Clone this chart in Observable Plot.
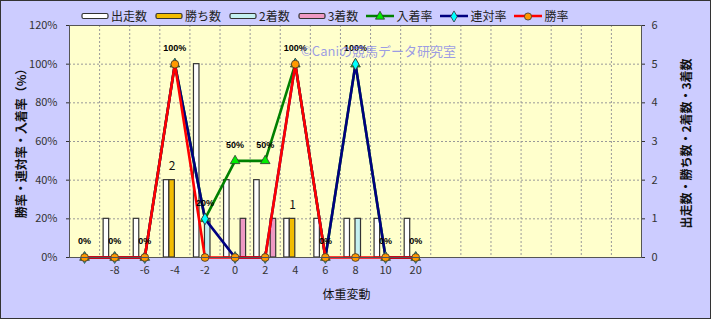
<!DOCTYPE html>
<html><head><meta charset="utf-8">
<script src="https://cdn.jsdelivr.net/npm/d3@7"></script>
<script src="https://cdn.jsdelivr.net/npm/@observablehq/plot@0.6"></script>
<style>
body{margin:0;}
#wrap{position:relative;width:711px;height:319px;background:#CCCCFF;font-family:"Noto Sans CJK JP",sans-serif;overflow:hidden;}
#wrap svg.plot{position:absolute;left:0;top:0;}
#border{position:absolute;left:0;top:0;width:709px;height:317px;border:1px solid #333;pointer-events:none;}
#legend{position:absolute;left:81px;top:7px;display:flex;align-items:center;font-size:12px;color:#222;white-space:nowrap;}
#legend .item{display:flex;align-items:center;margin-right:8px;}
#legend svg{margin-right:2px;}
</style>
</head><body>
<div id="wrap"><div id="legend"></div><div id="border"></div></div>
<script>
// ---- data ----
const categories = ["", "-8", "-6", "-4", "-2", "0", "2", "4", "6", "8", "10", "20", "", "", "", "", "", "", ""];
const starts  = [0, 1, 1, 2, 5, 2, 2, 1, 1, 1, 1, 1];   // 出走数
const wins    = [0, 0, 0, 2, 0, 0, 0, 1, 0, 0, 0, 0];   // 勝ち数
const seconds = [0, 0, 0, 0, 1, 0, 0, 0, 0, 1, 0, 0];   // 2着数
const thirds  = [0, 0, 0, 0, 0, 1, 1, 0, 0, 0, 0, 0];   // 3着数
const placeRate = [0, 0, 0, 100, 20, 50, 50, 100, 0, 100, 0, 0]; // 入着率
const quinRate  = [0, 0, 0, 100, 20, 0, 0, 100, 0, 100, 0, 0];   // 連対率
const winRate   = [0, 0, 0, 100, 0, 0, 0, 100, 0, 0, 0, 0];      // 勝率
const leftTicks = [0, 20, 40, 60, 80, 100, 120];
const rightTicks = [0, 1, 2, 3, 4, 5, 6];
const xTitle = "体重変動";
const leftTitle = "勝率・連対率・入着率（%）";
const rightTitle = "出走数・勝ち数・2着数・3着数";
const watermark = "©Caniの競馬データ研究室";

const countToPct = 120 / rightTicks[rightTicks.length - 1];
const rows = starts.map((s, i) => ({i, starts: s, wins: wins[i], seconds: seconds[i], thirds: thirds[i],
  place: placeRate[i], quin: quinRate[i], win: winRate[i]}));

const barSeries = [
  {key: "starts", name: "出走数", fill: "#FFFFFF"},
  {key: "wins", name: "勝ち数", fill: "#F2BC00"},
  {key: "seconds", name: "2着数", fill: "#C4F0F0"},
  {key: "thirds", name: "3着数", fill: "#EE99C4"}
];
const lineSeries = [
  {key: "place", name: "入着率", stroke: "#008000", fill: "#00EE00", symbol: "triangle", r: 3.6},
  {key: "quin", name: "連対率", stroke: "#000080", fill: "#00FFFF", symbol: "diamond", r: 3.6},
  {key: "win", name: "勝率", stroke: "#FF0000", fill: "#FF9900", symbol: "circle", r: 3.9}
];
const bw = 0.183; // bar width in band units
const n = categories.length;

const marks = [
  Plot.frame({fill: "#FFFFCC"}),
  Plot.ruleY(leftTicks.slice(1, -1), {stroke: "#999", strokeDasharray: "2,2"}),
  Plot.ruleX(d3.range(n - 1).map(i => i + 0.5), {stroke: "#999", strokeDasharray: "2,2"}),
];
barSeries.forEach((s, k) => {
  marks.push(Plot.rectY(rows.filter(d => d[s.key] > 0), {
    x1: d => d.i - 2 * bw + k * bw, x2: d => d.i - 2 * bw + (k + 1) * bw,
    y1: 0, y2: d => d[s.key] * countToPct, fill: s.fill, stroke: "#333", strokeWidth: 1.2
  }));
});
marks.push(Plot.text(rows.filter(d => d.wins > 0), {
  x: d => d.i - 0.5 * bw, y: d => d.wins * countToPct, text: d => String(d.wins),
  dy: -14, fontSize: 12, fill: "#111"
}));
lineSeries.forEach(s => {
  marks.push(Plot.line(rows, {x: "i", y: s.key, stroke: s.stroke, strokeWidth: 2.6}));
  marks.push(Plot.dot(rows, {x: "i", y: s.key, symbol: s.symbol, r: s.r,
    fill: s.fill, stroke: "#333", strokeWidth: 0.8}));
});
marks.push(Plot.text(rows, {x: "i", y: "place", text: d => d.place + "%", dy: -16,
  fontSize: 9, fontWeight: "bold", fontFamily: "Liberation Sans", fill: "#000"}));
marks.push(Plot.frame({stroke: "#555"}));
marks.push(Plot.axisX({ticks: d3.range(n).filter(i => categories[i] !== "" ), tickFormat: i => categories[i],
  tickSize: 0, tickPadding: 9, label: null}));
marks.push(Plot.axisY({anchor: "left", ticks: leftTicks, tickFormat: d => d + "%", tickSize: 3, tickPadding: 9, label: null}));
marks.push(Plot.axisY({anchor: "right", ticks: leftTicks, tickFormat: d => String(d / countToPct), tickSize: 3, tickPadding: 7, label: null}));
marks.push(Plot.text([leftTitle], {frameAnchor: "left", textAnchor: "middle", rotate: -90, dx: -47, dy: -1, fontSize: 12, fontWeight: "bold", fill: "#111"}));
marks.push(Plot.text([rightTitle], {frameAnchor: "right", textAnchor: "middle", rotate: -90, dx: 46, dy: 2, fontSize: 12, fontWeight: "bold", fill: "#111"}));
marks.push(Plot.text([xTitle], {frameAnchor: "bottom", dx: -9, dy: 41, fontSize: 12, fill: "#111"}));
marks.push(Plot.text([watermark], {frameAnchor: "top", dx: 23, dy: 21, fontSize: 13, fill: "#6f6fee", fillOpacity: 0.7}));

const chart = Plot.plot({
  width: 711, height: 319,
  marginLeft: 69, marginRight: 70, marginTop: 25, marginBottom: 62,
  x: {type: "linear", domain: [-0.5, n - 0.5]},
  y: {domain: [0, 120]},
  style: {fontFamily: "'Noto Sans CJK JP', sans-serif", fontSize: "11px", background: "transparent", color: "#333", overflow: "visible"},
  marks
});
document.getElementById("wrap").insertBefore(chart, document.getElementById("border"));

// ---- legend ----
const legend = document.getElementById("legend");
const sym = {triangle: d3.symbolTriangle, diamond: d3.symbolDiamond, circle: d3.symbolCircle};
barSeries.forEach(s => {
  const it = document.createElement("div"); it.className = "item";
  it.innerHTML = `<svg width="28" height="8"><rect x="1" y="1.5" width="26" height="5" rx="1.5" fill="${s.fill}" stroke="#333" stroke-width="1.2"/></svg><span>${s.name}</span>`;
  legend.appendChild(it);
});
lineSeries.forEach(s => {
  const p = d3.symbol(sym[s.symbol], s.symbol === "circle" ? 40 : 36)();
  const it = document.createElement("div"); it.className = "item";
  it.innerHTML = `<svg width="28" height="12"><line x1="0" x2="28" y1="6" y2="6" stroke="${s.stroke}" stroke-width="2.5"/><path transform="translate(14,6.5)" d="${p}" fill="${s.fill}" stroke="#333" stroke-width="0.8"/></svg><span>${s.name}</span>`;
  legend.appendChild(it);
});
</script>
</body></html>
